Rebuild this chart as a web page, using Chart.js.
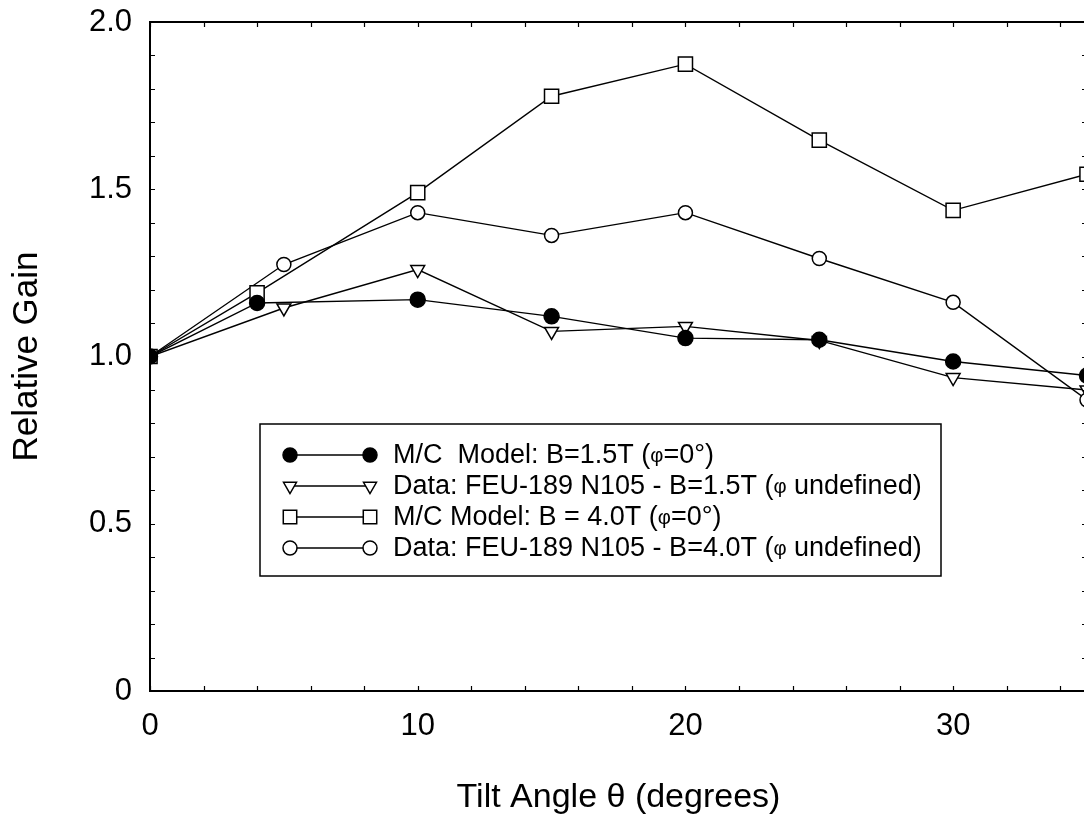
<!DOCTYPE html>
<html>
<head>
<meta charset="utf-8">
<title>Relative Gain vs Tilt Angle</title>
<script src="https://cdn.jsdelivr.net/npm/chart.js@4/dist/chart.umd.min.js"></script>
<style>
  html, body { margin: 0; padding: 0; background: #fff; overflow: hidden; }
  #gainChart { display: block; }
</style>
</head>
<body>
<canvas id="gainChart" width="1100" height="816"></canvas>
<script>
/**
 * Relative gain vs tilt angle - M/C model and FEU-189 data at 1.5T and 4.0T
 */

// Tilt angles (degrees)
const anglesModel = [0, 4, 10, 15, 20, 25, 30, 35];
const anglesData = [0, 5, 10, 15, 20, 25, 30, 35];

// Relative gain values
const mcModel15 = [1.0, 1.16, 1.17, 1.12, 1.055, 1.05, 0.985, 0.943];
const feuData15 = [1.0, 1.145, 1.26, 1.075, 1.09, 1.048, 0.937, 0.9];
const mcModel40 = [1.0, 1.19, 1.49, 1.778, 1.874, 1.647, 1.437, 1.545];
const feuData40 = [1.0, 1.275, 1.43, 1.362, 1.43, 1.293, 1.162, 0.87];

// Axis ticks
const xTickLabels = [0, 10, 20, 30];
const yTickLabels = [0, 0.5, 1.0, 1.5, 2.0];

// Legend texts
const legendLabels = [
  "M/C  Model: B=1.5T (φ=0°)",
  "Data: FEU-189 N105 - B=1.5T (φ undefined)",
  "M/C Model: B = 4.0T (φ=0°)",
  "Data: FEU-189 N105 - B=4.0T (φ undefined)",
];

const FONT = "'Liberation Sans', Arial, Helvetica, sans-serif";

document.addEventListener("DOMContentLoaded", () => {
  initGainChart();
});

/**
 * Zip x and y arrays into point objects
 */
function toPoints(xs, ys) {
  return xs.map((x, i) => ({ x: x, y: ys[i] }));
}

/**
 * Draw text with the phi symbol set a bit smaller, like the Symbol font
 */
function drawRichText(ctx, text, x, y, size) {
  const parts = text.split(/(φ)/);
  let cx = x;
  parts.forEach((part) => {
    if (!part) return;
    ctx.font = (part === "φ" ? size * 0.75 : size) + "px " + FONT;
    ctx.fillText(part, cx, y);
    cx += ctx.measureText(part).width;
  });
}

// Frame with inward ticks on all four sides
const framePlugin = {
  id: "frame",
  afterDraw(chart) {
    const { ctx, chartArea } = chart;
    const xs = chart.scales.x;
    const ys = chart.scales.y;
    const len = 5;

    ctx.save();
    ctx.strokeStyle = "#000";
    ctx.lineWidth = 2;
    ctx.strokeRect(chartArea.left, chartArea.top, chartArea.right - chartArea.left, chartArea.bottom - chartArea.top);

    ctx.lineWidth = 1.2;
    ctx.beginPath();
    for (let v = 0; v <= 35; v += 2) {
      const px = Math.round(xs.getPixelForValue(v)) + 0.5;
      ctx.moveTo(px, chartArea.bottom);
      ctx.lineTo(px, chartArea.bottom - len);
      ctx.moveTo(px, chartArea.top);
      ctx.lineTo(px, chartArea.top + len);
    }
    for (let i = 0; i <= 20; i++) {
      const py = Math.round(ys.getPixelForValue(i / 10)) + 0.5;
      ctx.moveTo(chartArea.left, py);
      ctx.lineTo(chartArea.left + len, py);
      ctx.moveTo(chartArea.right, py);
      ctx.lineTo(chartArea.right - len, py);
    }
    ctx.stroke();
    ctx.restore();
  },
};

// Boxed legend with a marker at each end of a line segment
const legendPlugin = {
  id: "boxLegend",
  afterDatasetsDraw(chart) {
    const ctx = chart.ctx;
    const box = { left: 260, top: 424, width: 681, height: 152 };
    const rowTop = 455;
    const rowGap = 31;
    const markerSizes = [7, 7.5, 9.5, 7];

    ctx.save();
    ctx.fillStyle = "#fff";
    ctx.fillRect(box.left, box.top, box.width, box.height);
    ctx.strokeStyle = "#000";
    ctx.lineWidth = 1.5;
    ctx.strokeRect(box.left, box.top, box.width, box.height);

    chart.data.datasets.forEach((ds, i) => {
      const y = rowTop + i * rowGap;
      ctx.strokeStyle = "#000";
      ctx.lineWidth = 1.4;
      ctx.beginPath();
      ctx.moveTo(290, y);
      ctx.lineTo(370, y);
      ctx.stroke();

      [290, 370].forEach((mx) => {
        ctx.fillStyle = ds.pointBackgroundColor;
        ctx.strokeStyle = "#000";
        ctx.lineWidth = 1.5;
        Chart.helpers.drawPoint(
          ctx,
          {
            pointStyle: ds.pointStyle,
            radius: markerSizes[i],
            rotation: ds.pointRotation || 0,
            borderWidth: 1.5,
          },
          mx,
          y
        );
      });

      ctx.fillStyle = "#000";
      ctx.textBaseline = "middle";
      ctx.textAlign = "left";
      drawRichText(ctx, legendLabels[i], 393, y + 1, 27);
    });
    ctx.restore();
  },
};

/**
 * Initialize the gain chart
 */
function initGainChart() {
  const ctx = document.getElementById("gainChart");
  if (!ctx) return;

  const common = {
    showLine: true,
    borderColor: "#000",
    borderWidth: 1.4,
    pointBorderColor: "#000",
    pointBorderWidth: 1.5,
    tension: 0,
  };

  new Chart(ctx, {
    type: "scatter",
    data: {
      datasets: [
        {
          ...common,
          label: legendLabels[0],
          data: toPoints(anglesModel, mcModel15),
          pointStyle: "circle",
          pointRadius: 7.5,
          pointBackgroundColor: "#000",
        },
        {
          ...common,
          label: legendLabels[1],
          data: toPoints(anglesData, feuData15),
          pointStyle: "triangle",
          pointRotation: 180,
          pointRadius: 8,
          pointBackgroundColor: "#fff",
        },
        {
          ...common,
          label: legendLabels[2],
          data: toPoints(anglesModel, mcModel40),
          pointStyle: "rect",
          pointRadius: 10,
          pointBackgroundColor: "#fff",
        },
        {
          ...common,
          label: legendLabels[3],
          data: toPoints(anglesData, feuData40),
          pointStyle: "circle",
          pointRadius: 7,
          pointBackgroundColor: "#fff",
        },
      ],
    },
    options: {
      responsive: false,
      animation: false,
      events: [],
      layout: {
        autoPadding: false,
        padding: { left: 0, top: 22, right: 13, bottom: 0 },
      },
      plugins: {
        legend: { display: false },
        tooltip: { enabled: false },
      },
      scales: {
        x: {
          type: "linear",
          min: 0,
          max: 35,
          grid: { display: false, drawTicks: false },
          border: { display: false },
          ticks: {
            stepSize: 10,
            includeBounds: false,
            padding: 17,
            color: "#000",
            font: { family: FONT, size: 31 },
            callback: function (value) {
              return xTickLabels.includes(value) ? String(value) : "";
            },
          },
          title: {
            display: true,
            text: "Tilt Angle θ (degrees)",
            color: "#000",
            font: { family: FONT, size: 34, lineHeight: 1.1 },
            padding: { top: 0, bottom: 0 },
          },
          afterFit: function (scale) {
            scale.height = 125;
            scale.paddingLeft = 0;
            scale.paddingRight = 0;
          },
        },
        y: {
          type: "linear",
          min: 0,
          max: 2,
          grid: { display: false, drawTicks: false },
          border: { display: false },
          ticks: {
            stepSize: 0.5,
            padding: 18,
            color: "#000",
            font: { family: FONT, size: 31 },
            callback: function (value) {
              if (!yTickLabels.includes(value)) return "";
              return value === 0 ? "0" : value.toFixed(1);
            },
          },
          title: {
            display: true,
            text: "Relative Gain",
            color: "#000",
            font: { family: FONT, size: 35, lineHeight: 1.1 },
            padding: { top: 8, bottom: 0 },
          },
          afterFit: function (scale) {
            scale.width = 150;
            scale.paddingTop = 0;
            scale.paddingBottom = 0;
          },
        },
      },
    },
    plugins: [framePlugin, legendPlugin],
  });
}
</script>
</body>
</html>
